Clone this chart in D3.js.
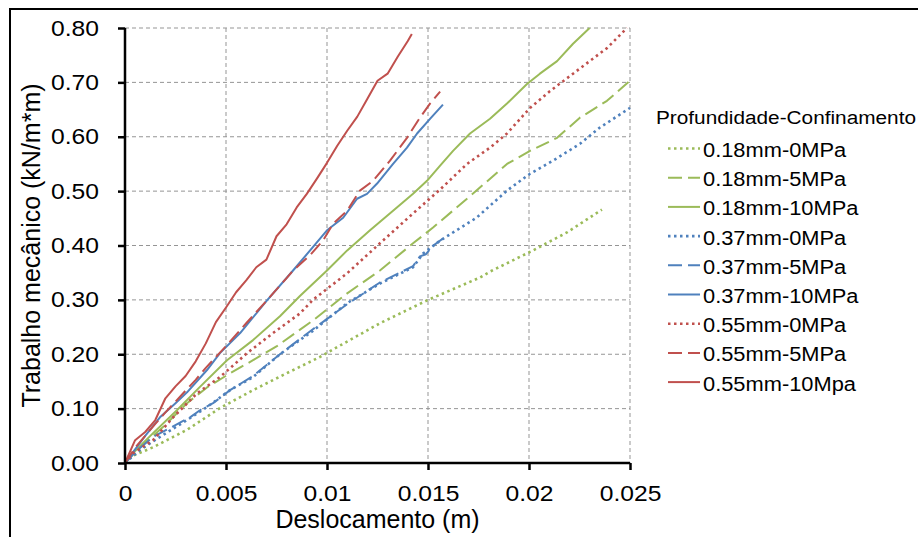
<!DOCTYPE html>
<html>
<head>
<meta charset="utf-8">
<script src="https://cdn.jsdelivr.net/npm/d3@7"></script>
<style>
  body { margin: 0; background: #fff; }
  text { font-family: "Liberation Sans", Arial, sans-serif; fill: #000; }
</style>
</head>
<body>
<script>
// ---- data ----
var seriesNames = ['0.18mm-0MPa', '0.18mm-5MPa', '0.18mm-10MPa',
                   '0.37mm-0MPa', '0.37mm-5MPa', '0.37mm-10MPa',
                   '0.55mm-0MPa', '0.55mm-5MPa', '0.55mm-10Mpa'];
var legendTitle = 'Profundidade-Confinamento';

var xTicks = [0, 0.005, 0.01, 0.015, 0.02, 0.025];
var xTickLabels = ['0', '0.005', '0.01', '0.015', '0.02', '0.025'];
var yTicks = [0, 0.1, 0.2, 0.3, 0.4, 0.5, 0.6, 0.7, 0.8];
var yTickLabels = ['0.00', '0.10', '0.20', '0.30', '0.40', '0.50', '0.60', '0.70', '0.80'];

// [deslocamento (m), trabalho (kN/m*m)]
var g0 = [[0,0],[0.00025,0.011],[0.00139,0.029],[0.00307,0.061],[0.0047,0.101],[0.00634,0.134],
  [0.008,0.165],[0.00965,0.195],[0.0105,0.213],[0.01262,0.257],[0.01495,0.299],[0.01757,0.341],
  [0.01807,0.352],[0.0202,0.391],[0.02188,0.424],[0.02361,0.466]];
var g5 = [[0,0],[0.00074,0.029],[0.00188,0.066],[0.00307,0.110],[0.00406,0.139],[0.0052,0.165],
  [0.00634,0.189],[0.00752,0.215],[0.0093,0.262],[0.011,0.312],[0.01262,0.354],[0.01426,0.404],
  [0.01525,0.433],[0.0174,0.501],[0.01891,0.550],[0.02005,0.574],[0.02139,0.598],[0.02252,0.635],
  [0.02386,0.666],[0.025,0.703]];
var g10 = [[0,0],[0.0005,0.022],[0.00139,0.055],[0.00257,0.097],[0.00371,0.140],[0.00505,0.189],
  [0.00634,0.226],[0.00767,0.270],[0.00866,0.307],[0.010,0.354],[0.011,0.391],[0.01213,0.428],
  [0.01327,0.464],[0.01426,0.495],[0.01495,0.519],[0.0156,0.547],[0.01624,0.574],[0.01708,0.606],
  [0.01807,0.633],[0.01891,0.661],[0.0199,0.697],[0.02054,0.716],[0.02139,0.739],[0.02218,0.771],
  [0.0230,0.800]];
var b0 = [[0,0],[0.00074,0.024],[0.00173,0.048],[0.00307,0.079],[0.00406,0.103],[0.0052,0.134],
  [0.00634,0.158],[0.00767,0.200],[0.0093,0.243],[0.011,0.294],[0.01262,0.330],[0.01426,0.360],
  [0.01475,0.385],[0.0156,0.409],[0.0174,0.451],[0.01891,0.501],[0.02005,0.532],[0.02119,0.556],
  [0.02252,0.587],[0.02351,0.617],[0.025,0.653]];
var b5 = [[0,0],[0.0005,0.020],[0.00139,0.048],[0.00322,0.084],[0.00371,0.097],[0.00436,0.110],
  [0.0052,0.134],[0.00634,0.160],[0.00767,0.200],[0.0093,0.246],[0.011,0.292],[0.01262,0.332],
  [0.01426,0.362],[0.0146,0.380],[0.0149,0.384],[0.0152,0.398],[0.01574,0.413]];
var b10 = [[0,0],[0.0005,0.025],[0.001,0.050],[0.00173,0.084],[0.0025,0.110],[0.00307,0.130],
  [0.00406,0.171],[0.0047,0.202],[0.0057,0.239],[0.00703,0.299],[0.00832,0.354],[0.0093,0.397],
  [0.010,0.428],[0.0108,0.451],[0.01149,0.486],[0.01198,0.495],[0.01248,0.514],[0.01327,0.550],
  [0.01396,0.580],[0.01446,0.606],[0.0151,0.633],[0.01574,0.659]];
var r0 = [[0,0],[0.0004,0.018],[0.00139,0.042],[0.00238,0.084],[0.00356,0.128],[0.0047,0.158],
  [0.00604,0.202],[0.00733,0.239],[0.00866,0.275],[0.0093,0.300],[0.011,0.349],[0.01262,0.404],
  [0.01426,0.459],[0.0156,0.503],[0.01693,0.550],[0.01807,0.580],[0.01891,0.606],[0.02005,0.653],
  [0.02104,0.684],[0.02218,0.716],[0.0230,0.739],[0.02386,0.763],[0.02485,0.800]];
var r5 = [[0,0],[0.0005,0.028],[0.001,0.050],[0.0015,0.072],[0.002,0.093],[0.0025,0.113],
  [0.003,0.133],[0.0035,0.153],[0.004,0.175],[0.0045,0.195],[0.005,0.215],[0.006,0.257],
  [0.007,0.298],[0.008,0.340],[0.00832,0.354],[0.00916,0.382],[0.0098,0.409],[0.0103,0.440],
  [0.011,0.464],[0.01163,0.501],[0.01228,0.519],[0.01312,0.556],[0.01396,0.598],[0.0146,0.635],
  [0.0151,0.661],[0.0156,0.683]];
var r10 = [[0,0],[0.0005,0.042],[0.001,0.057],[0.0015,0.079],[0.002,0.119],[0.0025,0.141],
  [0.003,0.160],[0.0035,0.187],[0.004,0.220],[0.0045,0.259],[0.005,0.286],[0.0055,0.314],
  [0.006,0.336],[0.0065,0.360],[0.007,0.374],[0.0075,0.417],[0.008,0.439],[0.0085,0.470],
  [0.009,0.495],[0.0095,0.523],[0.010,0.552],[0.0105,0.583],[0.011,0.611],[0.0115,0.637],
  [0.012,0.670],[0.0125,0.703],[0.013,0.716],[0.0135,0.747],[0.014,0.776],[0.0142,0.789]];

var seriesData = [g0, g5, g10, b0, b5, b10, r0, r5, r10];

// ---- styles ----
var colors = ['#9bbb59', '#9bbb59', '#9bbb59', '#4f81bd', '#4f81bd', '#4f81bd', '#c0504d', '#c0504d', '#c0504d'];
var dashes = ['2.5,3.5', '14,6', null, '2.5,3.5', '14,6', null, '2.5,3.5', '14,6', null];

var width = 918, height = 537;
var margin = {left: 125, top: 28};
var plotW = 505, plotH = 435;

// stretch text horizontally, the reference text is a bit wide
function stretch(sel, k) {
	sel.each(function() {
		var w = this.getComputedTextLength();
		d3.select(this).attr('textLength', w * k).attr('lengthAdjust', 'spacingAndGlyphs');
	});
}

var svg = d3.select('body').append('svg')
	.attr('width', width)
	.attr('height', height);

svg.append('rect')
	.attr('x', 10).attr('y', 9)
	.attr('width', 1200).attr('height', 1200)
	.attr('fill', 'none').attr('stroke', '#000').attr('stroke-width', 2);

var xScale = d3.scaleLinear().domain([0, 0.025]).range([0, plotW]);
var yScale = d3.scaleLinear().domain([0, 0.8]).range([plotH, 0]);

var g = svg.append('g').attr('transform', `translate(${margin.left}, ${margin.top})`);

// grid
g.append('g').selectAll('line.vg')
	.data(xTicks.slice(1))
	.enter().append('line')
	.attr('x1', d => xScale(d)).attr('x2', d => xScale(d))
	.attr('y1', 0).attr('y2', plotH)
	.attr('stroke', '#959595').attr('stroke-dasharray', '4,3');
g.append('g').selectAll('line.hg')
	.data(yTicks.slice(1))
	.enter().append('line')
	.attr('x1', 0).attr('x2', plotW)
	.attr('y1', d => yScale(d)).attr('y2', d => yScale(d))
	.attr('stroke', '#959595').attr('stroke-dasharray', '4,3');

// lines
svg.append('clipPath').attr('id', 'clip')
	.append('rect').attr('x', 0).attr('y', -1).attr('width', plotW + 1).attr('height', plotH + 1);

var line = d3.line().x(d => xScale(d[0])).y(d => yScale(d[1]));

g.append('g').attr('clip-path', 'url(#clip)')
	.selectAll('path')
	.data(seriesData)
	.enter().append('path')
	.attr('d', d => line(d))
	.attr('fill', 'none')
	.attr('stroke', (d, i) => colors[i])
	.attr('stroke-width', (d, i) => dashes[i] === '2.5,3.5' ? 2.6 : 2)
	.attr('stroke-dasharray', (d, i) => dashes[i])
	.attr('stroke-linejoin', 'round');

// axes
var xAxis = d3.axisBottom(xScale).tickValues(xTicks)
	.tickFormat((d, i) => xTickLabels[i]).tickSize(7).tickPadding(15);
var yAxis = d3.axisLeft(yScale).tickValues(yTicks)
	.tickFormat((d, i) => yTickLabels[i]).tickSize(7).tickPadding(19);

var gx = g.append('g').attr('transform', `translate(0, ${plotH})`).call(xAxis);
var gy = g.append('g').call(yAxis);

[gx, gy].forEach(function(a) {
	a.select('.domain').attr('stroke', '#000').attr('stroke-width', 2.5);
	a.selectAll('.tick line').attr('stroke', '#000').attr('stroke-width', 2.5);
	a.selectAll('.tick text').attr('font-size', 22).attr('font-family', '"Liberation Sans", Arial, sans-serif').attr('fill', '#000');
	a.attr('font-size', null).attr('font-family', null);
});
gx.select('.domain').attr('d', `M0,0H${plotW}`);
gy.select('.domain').attr('d', `M0,${plotH}V0`);
stretch(gx.selectAll('.tick text'), 1.12);
stretch(gy.selectAll('.tick text'), 1.12);

// axis titles
svg.append('text')
	.attr('x', margin.left + plotW / 2).attr('y', 528)
	.attr('text-anchor', 'middle').attr('font-size', 25)
	.text('Deslocamento (m)');

svg.append('text')
	.attr('transform', `translate(40, ${margin.top + plotH / 2}) rotate(-90)`)
	.attr('text-anchor', 'middle').attr('font-size', 25)
	.text('Trabalho mecânico (kN/m*m)');

// legend
var legend = svg.append('g');
legend.append('text')
	.attr('x', 656).attr('y', 124)
	.attr('font-family', '"Open Sans", sans-serif').attr('font-size', 18)
	.attr('textLength', 260).attr('lengthAdjust', 'spacingAndGlyphs')
	.text(legendTitle);

var item = legend.selectAll('g.item')
	.data(seriesNames)
	.enter().append('g')
	.attr('transform', (d, i) => `translate(0, ${157 + i * 29.2})`);

item.append('line')
	.attr('x1', 668).attr('x2', 700)
	.attr('y1', -8.5).attr('y2', -8.5)
	.attr('stroke', (d, i) => colors[i])
	.attr('stroke-width', (d, i) => dashes[i] === '2.5,3.5' ? 2.6 : 2)
	.attr('stroke-dasharray', (d, i) => dashes[i]);

item.append('text')
	.attr('x', 703).attr('y', 0)
	.attr('font-size', 19.5)
	.text(d => d);
stretch(item.selectAll('text'), 1.12);
</script>
</body>
</html>
